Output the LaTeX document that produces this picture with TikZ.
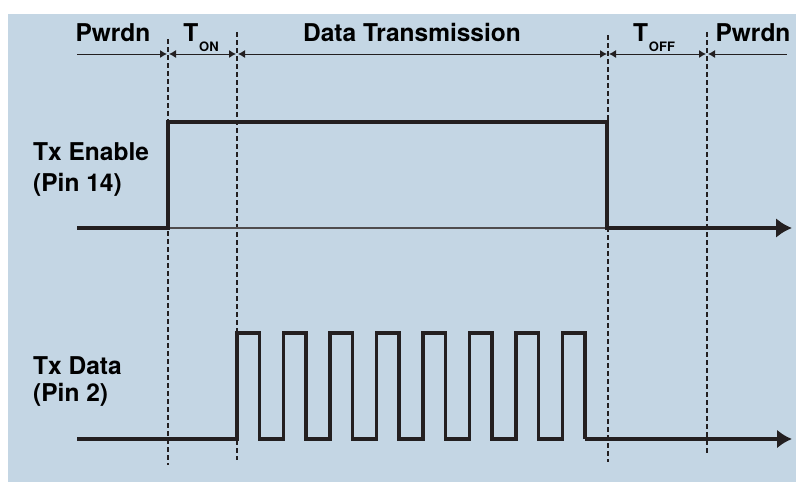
\documentclass[tikz,border=0pt]{standalone}
\usepackage{fontspec}
\setmainfont{TeX Gyre Heros}
\usetikzlibrary{positioning,arrows.meta}
\definecolor{panelblue}{RGB}{196,214,228}
\definecolor{inkdark}{RGB}{35,31,32}
\newcommand{\bigfont}{\bfseries\fontsize{24.5}{29}\selectfont}
\newcommand{\subfont}{\bfseries\fontsize{13}{13}\selectfont}

\begin{document}
\begin{tikzpicture}[x=1pt, y=-1pt, line join=miter,
  lbl/.style ={font=\bigfont, text=black, inner sep=0pt, anchor=base},
  pinlbl/.style ={font=\bigfont, text=black, inner sep=0pt, anchor=base west},
  marker/.style ={draw=inkdark, line width=1.2pt, dash pattern=on 5pt off 3pt},
  dim/.style ={draw=inkdark, line width=1pt},
  sig/.style ={draw=inkdark, line width=3.8pt},
  pulse/.style ={draw=inkdark, line width=3.2pt},
  axis/.style ={draw=inkdark!80, line width=1.2pt}
]
\useasboundingbox (0,0) rectangle (796,482);
\fill[panelblue] (8,14) rectangle (796,482);

% phase markers
\foreach \n/\x/\t/\b in {1/168/39/465, 2/237/32/460, 3/608/35/462, 4/707/32/455} {
  \coordinate (m\n top) at (\x,\t);
  \coordinate (m\n bot) at (\x,\b);
  \draw[marker] (m\n top) -- (m\n bot);
}

% phase labels
\node[lbl] (pwrdnL) at (113,41) {Pwrdn};
\node[lbl] (ton) at (201,41) {T\kern1pt\raisebox{-10pt}{\subfont ON}};
\node[lbl] (data) at (412,41) {Data Transmission};
\node[lbl] (toff) at (654,41) {T\kern1pt\raisebox{-10pt}{\subfont OFF}};
\node[lbl] (pwrdnR) at (753,41) {Pwrdn};

% phase spans
\coordinate (d0) at (77,54);
\coordinate (d1) at (167,54);
\coordinate (d1b) at (169,54);
\coordinate (d2) at (236,54);
\coordinate (d2b) at (238,54);
\coordinate (d3) at (607,54);
\coordinate (d3b) at (609,54);
\coordinate (d4) at (706,54);
\coordinate (d4b) at (708,54);
\coordinate (d5) at (787,54);
\draw[dim, -{Latex[length=7pt,width=8pt]}] (d0) -- (d1);
\draw[dim, {Latex[length=7pt,width=8pt]}-{Latex[length=7pt,width=8pt]}] (d1b) -- (d2);
\draw[dim, {Latex[length=7pt,width=8pt]}-{Latex[length=7pt,width=8pt]}] (d2b) -- (d3);
\draw[dim, {Latex[length=7pt,width=8pt]}-{Latex[length=7pt,width=8pt]}] (d3b) -- (d4);
\draw[dim, {Latex[length=7pt,width=8pt]}-] (d4b) -- (d5);

% signal names
\node[pinlbl] (enable) at (33,160) {Tx Enable};
\node[pinlbl] (enablepin) at (33,191) {(Pin 14)};
\node[pinlbl] (txdata) at (33,374) {Tx Data};
\node[pinlbl] (datapin) at (33,401) {(Pin 2)};

% Tx Enable
\coordinate (en0) at (77,228);
\coordinate (en1) at (168,228);
\coordinate (en2) at (168,122);
\coordinate (en3) at (607,122);
\coordinate (en4) at (607,228);
\coordinate (en5) at (792,228);
\draw[axis] (en1) -- (en4);
\draw[sig, -{Latex[length=16pt,width=20pt]}] (en0) -- (en1) -- (en2) -- (en3) -- (en4) -- (en5);

% Tx Data
\coordinate (dt0) at (77,439);
\coordinate (dt4) at (585,439);
\coordinate (dt5) at (792,439);
\draw[pulse] (dt0)
  \foreach \k in {0,...,7} {
    -- ({237+46.5*\k},439) -- ({237+46.5*\k},333)
    -- ({259.5+46.5*\k},333) -- ({259.5+46.5*\k},439)
  } -- (dt4);
\draw[sig, -{Latex[length=15pt,width=19pt]}] (dt4) -- (dt5);
\end{tikzpicture}
\end{document}
